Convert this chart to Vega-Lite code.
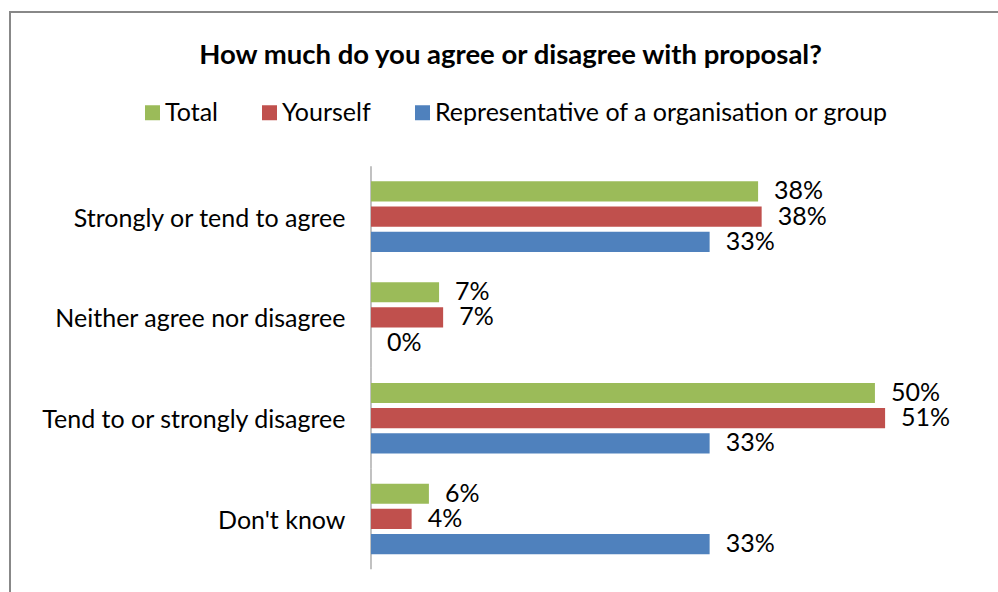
{
  "$schema": "https://vega.github.io/schema/vega-lite/v6.json",
  "width": 989,
  "height": 581,
  "autosize": {"type": "none"},
  "padding": {"left": 10, "top": 12, "right": -1, "bottom": -1},
  "background": "white",
  "config": {
    "view": {"stroke": "#888888", "strokeWidth": 2},
    "font": "Lato"
  },
  "title": {
    "text": "How much do you agree or disagree with proposal?",
    "font": "Lato",
    "fontSize": 27.5,
    "fontWeight": "bold",
    "color": "#000000",
    "anchor": "middle",
    "offset": -57,
    "dx": 6
  },
  "datasets": {
    "bars": [
      {"Response": "Strongly or tend to agree", "Series": "Total", "value": 0.381},
      {"Response": "Strongly or tend to agree", "Series": "Yourself", "value": 0.3845},
      {"Response": "Strongly or tend to agree", "Series": "Representative of a organisation or group", "value": 0.3333},
      {"Response": "Neither agree nor disagree", "Series": "Total", "value": 0.067},
      {"Response": "Neither agree nor disagree", "Series": "Yourself", "value": 0.071},
      {"Response": "Neither agree nor disagree", "Series": "Representative of a organisation or group", "value": 0},
      {"Response": "Tend to or strongly disagree", "Series": "Total", "value": 0.496},
      {"Response": "Tend to or strongly disagree", "Series": "Yourself", "value": 0.506},
      {"Response": "Tend to or strongly disagree", "Series": "Representative of a organisation or group", "value": 0.3333},
      {"Response": "Don't know", "Series": "Total", "value": 0.057},
      {"Response": "Don't know", "Series": "Yourself", "value": 0.040},
      {"Response": "Don't know", "Series": "Representative of a organisation or group", "value": 0.3333}
    ],
    "cats": [
      {"Response": "Strongly or tend to agree"},
      {"Response": "Neither agree nor disagree"},
      {"Response": "Tend to or strongly disagree"},
      {"Response": "Don't know"}
    ]
  },
  "layer": [
    {
      "data": {"name": "cats"},
      "mark": {"type": "bar", "color": "#868686"},
      "encoding": {
        "y": {
          "field": "Response", "type": "nominal", "title": null,
          "scale": {"domain": ["Strongly or tend to agree", "Neither agree nor disagree", "Tend to or strongly disagree", "Don't know"], "paddingInner": 0, "paddingOuter": 0.8828, "align": 0.867},
          "axis": {"orient": "left", "offset": -361, "domain": false, "ticks": false, "tickSize": 0, "labelPadding": 26, "labelOffset": 2, "labelFont": "Lato", "labelFontSize": 25, "labelColor": "#000000", "labelLimit": 500, "title": null}
        },
        "x": {
          "datum": -0.0005, "type": "quantitative",
          "scale": {"domain": [-0.35531, 0.61811], "nice": false, "zero": false},
          "axis": null
        },
        "x2": {"datum": 0.0005}
      }
    },
    {
      "data": {"name": "bars"},
      "mark": {"type": "bar"},
      "encoding": {
        "y": {
          "field": "Response", "type": "nominal", "title": null,
          "scale": {"domain": ["Strongly or tend to agree", "Neither agree nor disagree", "Tend to or strongly disagree", "Don't know"], "paddingInner": 0, "paddingOuter": 0.8828, "align": 0.867},
          "axis": {"orient": "left", "offset": -361, "domain": false, "ticks": false, "tickSize": 0, "labelPadding": 26, "labelOffset": 2, "labelFont": "Lato", "labelFontSize": 25, "labelColor": "#000000", "labelLimit": 500, "title": null}
        },
        "yOffset": {
          "field": "Series", "type": "nominal",
          "scale": {"domain": ["Total", "Yourself", "Representative of a organisation or group"], "paddingInner": 0.2, "paddingOuter": 0.6}
        },
        "x": {
          "field": "value", "type": "quantitative",
          "scale": {"domain": [-0.35531, 0.61811], "nice": false, "zero": false},
          "axis": null
        },
        "x2": {"datum": 0},
        "color": {
          "field": "Series", "type": "nominal",
          "scale": {"domain": ["Total", "Yourself", "Representative of a organisation or group"], "range": ["#9BBB59", "#C0504D", "#4F81BD"]},
          "legend": {
            "orient": "none", "legendX": 130, "legendY": 88, "direction": "horizontal",
            "title": null, "symbolType": "square", "symbolSize": 225, "symbolStrokeWidth": 0,
            "labelFont": "Lato", "labelFontSize": 25, "labelColor": "#000000", "labelOffset": 0,
            "columnPadding": 39, "labelLimit": 700, "padding": 0
          }
        }
      }
    },
    {
      "data": {"name": "bars"},
      "mark": {"type": "text", "align": "left", "baseline": "middle", "dx": 16, "fontSize": 25, "font": "Lato", "color": "#000000"},
      "encoding": {
        "y": {
          "field": "Response", "type": "nominal", "title": null,
          "scale": {"domain": ["Strongly or tend to agree", "Neither agree nor disagree", "Tend to or strongly disagree", "Don't know"], "paddingInner": 0, "paddingOuter": 0.8828, "align": 0.867},
          "axis": {"orient": "left", "offset": -361, "domain": false, "ticks": false, "tickSize": 0, "labelPadding": 26, "labelOffset": 2, "labelFont": "Lato", "labelFontSize": 25, "labelColor": "#000000", "labelLimit": 500, "title": null}
        },
        "yOffset": {
          "field": "Series", "type": "nominal",
          "scale": {"domain": ["Total", "Yourself", "Representative of a organisation or group"], "paddingInner": 0.2, "paddingOuter": 0.6}
        },
        "x": {
          "field": "value", "type": "quantitative",
          "scale": {"domain": [-0.35531, 0.61811], "nice": false, "zero": false},
          "axis": null
        },
        "text": {"field": "value", "type": "quantitative", "format": ".0%"}
      }
    }
  ]
}
